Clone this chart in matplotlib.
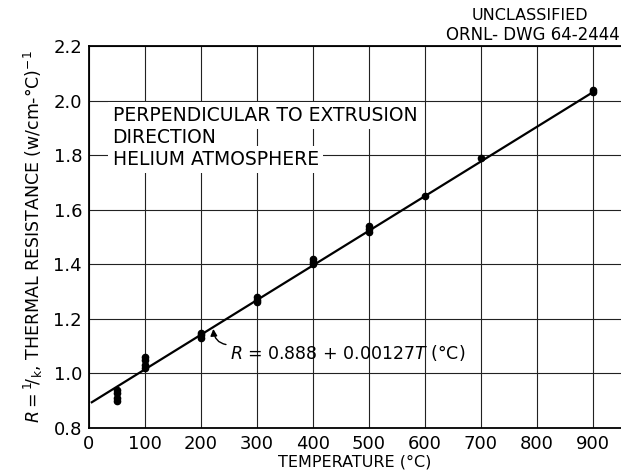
import numpy as np
import matplotlib.pyplot as plt

# thermal resistance readings, several specimens per temperature
temps = [50, 50, 50, 50,
         100, 100, 100, 100,
         200, 200, 200,
         300, 300, 300,
         400, 400, 400,
         500, 500, 500,
         600, 700,
         900, 900]
resist = [0.90, 0.91, 0.93, 0.94,
          1.02, 1.03, 1.05, 1.06,
          1.13, 1.14, 1.15,
          1.26, 1.27, 1.28,
          1.40, 1.41, 1.42,
          1.52, 1.53, 1.54,
          1.65, 1.79,
          2.03, 2.04]

# least squares fit R = a + b*T
fit_a = 0.888
fit_b = 0.00127
fit_range = [5, 900]

xticks = np.arange(0, 1000, 100)
yticks = np.arange(0.8, 2.21, 0.2)

plt.rcParams['font.family'] = 'DejaVu Sans'
plt.rcParams['mathtext.fontset'] = 'dejavusans'

fig = plt.figure(figsize=(6.21, 4.75), dpi=100)
ax = fig.add_axes([89 / 621, 1 - 428 / 475, 1 - 89 / 621, (428 - 46) / 475])

ax.set_xlim(0, 950)
ax.set_ylim(0.8, 2.2)
ax.set_xticks(xticks)
ax.set_yticks(yticks)
ax.set_yticklabels([f"{v:.1f}" for v in yticks])
ax.tick_params(length=0, labelsize=13, pad=5)
ax.grid(True, color='#222222', lw=0.8)
ax.set_axisbelow(True)
for s in ['left', 'bottom', 'top']:
    ax.spines[s].set_linewidth(1.3)
ax.spines['right'].set_visible(False)

t = np.array(fit_range)
ax.plot(t, fit_a + fit_b * t, color='black', lw=1.6, zorder=3)
ax.plot(temps, resist, 'o', color='black', ms=4.5, zorder=4)

ax.annotate(r"$\mathit{R}$ = 0.888 + 0.00127$\mathit{T}$ (°C)",
            xy=(222, 1.163), xytext=(252, 1.075), textcoords='data',
            fontsize=12.5, va='center', ha='left',
            arrowprops=dict(arrowstyle='-|>', color='black', lw=1.0,
                            connectionstyle='arc3,rad=-0.45',
                            shrinkA=1, shrinkB=0, mutation_scale=10,
                            relpos=(0, 0.9)))

box = dict(facecolor='white', edgecolor='none', pad=3)
ax.text(42, 1.944, "PERPENDICULAR TO EXTRUSION", fontsize=13.5, va='center', bbox=box)
ax.text(42, 1.864, "DIRECTION", fontsize=13.5, va='center', bbox=box)
ax.text(42, 1.783, "HELIUM ATMOSPHERE", fontsize=13.5, va='center', bbox=box)

ax.set_xlabel("TEMPERATURE (°C)", fontsize=11.5, labelpad=1)
ax.set_ylabel(r"$\mathit{R}={}^{1}\!/_{\mathrm{k}}$, THERMAL RESISTANCE (w/cm-°C)$^{-1}$",
              fontsize=12.5, labelpad=6)

fig.text(530 / 621, 1 - 16 / 475, "UNCLASSIFIED", fontsize=11.5, ha='center', va='center')
fig.text(620 / 621, 1 - 35 / 475, "ORNL- DWG 64-2444", fontsize=12, ha='right', va='center')

fig.savefig('out.png', dpi=100)
